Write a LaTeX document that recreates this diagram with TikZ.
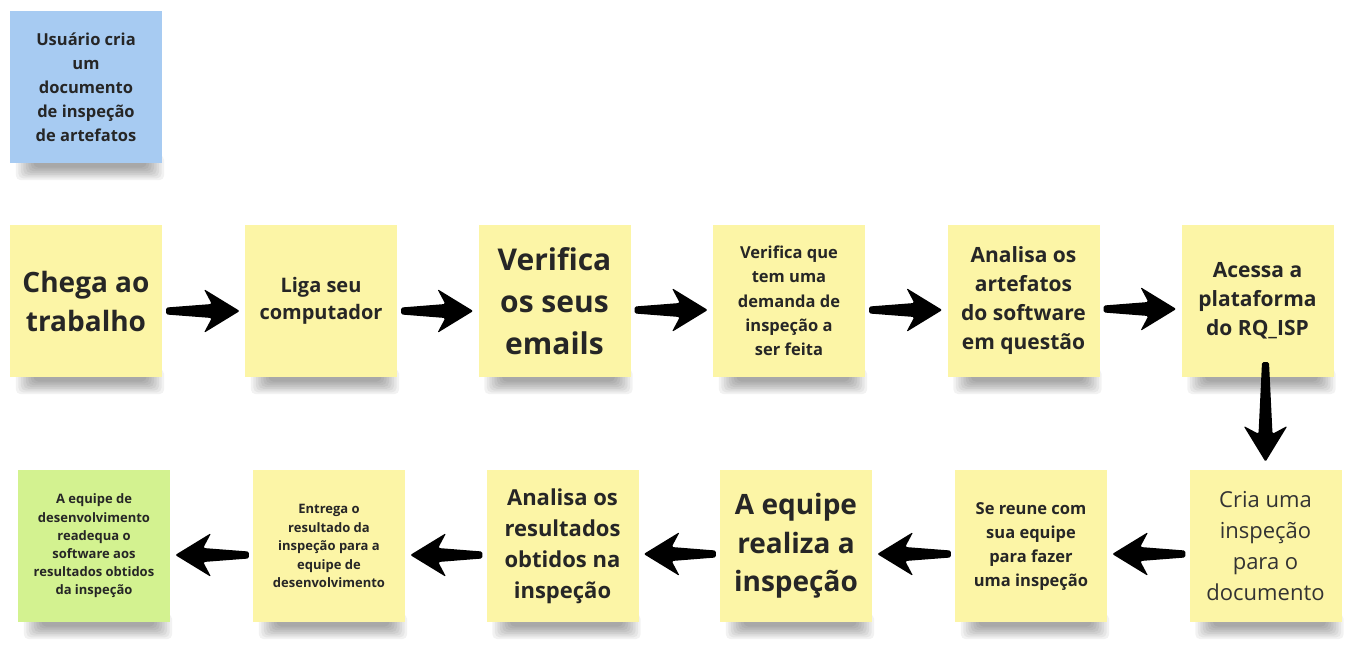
\documentclass[tikz,border=0pt]{standalone}
\usepackage{fontspec}
\setmainfont{Open Sans}
\usetikzlibrary{calc,backgrounds}
\definecolor{stickyY}{HTML}{FCF5A6}
\definecolor{stickyB}{HTML}{A7CBF2}
\definecolor{stickyG}{HTML}{D3F290}
\definecolor{txt}{HTML}{262626}
\definecolor{txtr}{HTML}{333333}
\begin{document}
\begin{tikzpicture}[x=1pt,y=-1pt,
  note/.style={minimum width=152pt, minimum height=152pt, inner sep=0pt, align=center, text=txt, fill=stickyY},
  fs/.style 2 args={font=\fontsize{#1}{#2}\selectfont\bfseries},
  fsr/.style 2 args={font=\fontsize{#1}{#2}\selectfont},
  fat/.style={fill=black, rounded corners=1.5pt, to path={
    let \p1=(\tikztostart), \p2=(\tikztotarget),
        \n1={atan2(\y2-\y1,\x2-\x1)}, \n2={veclen(\x2-\x1,\y2-\y1)},
        \n3={\n2-28pt}, \n4={\n2-36pt}, \n5={\n1+90}, \n6={\n1-90} in
    ($(\p1)+(\n5:3.5pt)$) -- ($(\p1)+(\n1:\n3)+(\n5:7pt)$) -- ($(\p1)+(\n1:\n4)+(\n5:22pt)$)
    -- (\p2) -- ($(\p1)+(\n1:\n4)+(\n6:22pt)$) -- ($(\p1)+(\n1:\n3)+(\n6:7pt)$)
    -- ($(\p1)+(\n6:3.5pt)$) -- cycle}}]
\useasboundingbox (0,0) rectangle (1368,654);
% row 0
\node[note, fill=stickyB, fs={16.5}{24}] (u) at (86,87) {Usuário cria\\um\\documento\\de inspeção\\de artefatos};
% row 1
\node[note, fs={28}{39}] (n1) at (86,301) {Chega ao\\trabalho};
\node[note, fs={20}{27}] (n2) at (321,301) {Liga seu\\computador};
\node[note, fs={30}{42}] (n3) at (554.5,301) {Verifica\\os seus\\emails};
\node[note, fs={16.5}{24.3}] (n4) at (789,301) {Verifica que\\tem uma\\demanda de\\inspeção a\\ser feita};
\node[note, fs={21}{29}] (n5) at (1023.5,301) {Analisa os\\artefatos\\do software\\em questão};
\node[note, fs={21}{29}] (n6) at (1257.5,301) {Acessa a\\plataforma\\do RQ\_ISP};
% row 2
\node[note, fsr={22}{31}, text=txtr] (m1) at (1265.5,546) {Cria uma\\inspeção\\para o\\documento};
\node[note, fs={16.5}{24}] (m2) at (1031,546) {Se reune com\\sua equipe\\para fazer\\uma inspeção};
\node[note, fs={28}{38.5}] (m3) at (796,546) {A equipe\\realiza a\\inspeção};
\node[note, fs={22}{31}] (m4) at (562.5,546) {Analisa os\\resultados\\obtidos na\\inspeção};
\node[note, fs={13}{18.5}] (m5) at (329,546) {Entrega o\\resultado da\\inspeção para a\\equipe de\\desenvolvimento};
\node[note, fill=stickyG, fs={13}{18.2}] (m6) at (94,546) {A equipe de\\desenvolvimento\\readequa o\\software aos\\resultados obtidos\\da inspeção};
% shadows
\begin{scope}[on background layer]
\foreach \n in {u,n1,n2,n3,n4,n5,n6,m1,m2,m3,m4,m5,m6} {
  \foreach \i in {0,...,7} {
    \fill[black, opacity=0.05, rounded corners=5pt] ($(\n.south west)+(6+2.5*\i,-8)$) rectangle ($(\n.south east)+(2-2.5*\i,17-1.8*\i)$);
  }
}
\end{scope}
% arrows row 1
\path[fat] ($(n1.east)+(4,10)$) to ($(n2.west)+(-5,10)$);
\path[fat] ($(n2.east)+(4,10)$) to ($(n3.west)+(-5,10)$);
\path[fat] ($(n3.east)+(4,9)$) to ($(n4.west)+(-5,9)$);
\path[fat] ($(n4.east)+(4,9)$) to ($(n5.west)+(-5,9)$);
\path[fat] ($(n5.east)+(4,8)$) to ($(n6.west)+(-5,8)$);
% down arrow
\path[fat] ($(n6.south -| m1.north)+(0,-15)$) to ($(m1.north)+(0,-8)$);
% arrows row 2
\path[fat] ($(m1.west)+(-4,8)$) to ($(m2.east)+(5,8)$);
\path[fat] ($(m2.west)+(-4,8)$) to ($(m3.east)+(5,8)$);
\path[fat] ($(m3.west)+(-4,8)$) to ($(m4.east)+(5,8)$);
\path[fat] ($(m4.west)+(-4,9)$) to ($(m5.east)+(5,9)$);
\path[fat] ($(m5.west)+(-4,9)$) to ($(m6.east)+(5,9)$);
\end{tikzpicture}
\end{document}
